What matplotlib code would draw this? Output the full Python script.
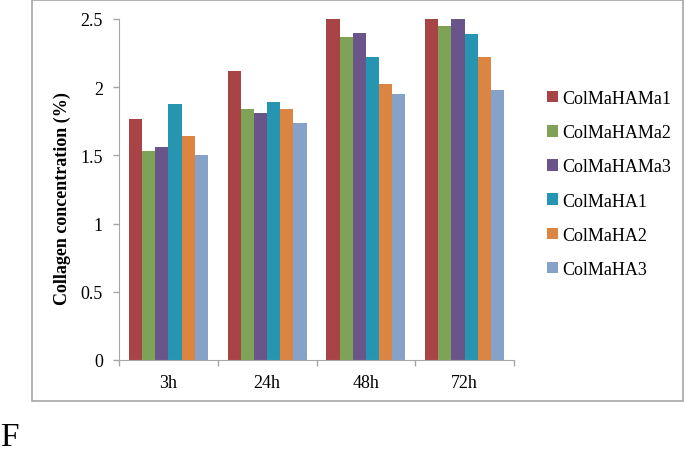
import numpy as np
import matplotlib
matplotlib.use("Agg")
import matplotlib.pyplot as plt
from matplotlib.patches import Rectangle

# data
times = ["3h", "24h", "48h", "72h"]
groups = ["ColMaHAMa1", "ColMaHAMa2", "ColMaHAMa3", "ColMaHA1", "ColMaHA2", "ColMaHA3"]
colmahama1 = [1.77, 2.12, 2.50, 2.50]
colmahama2 = [1.53, 1.84, 2.37, 2.45]
colmahama3 = [1.56, 1.81, 2.40, 2.50]
colmaha1 = [1.88, 1.89, 2.22, 2.39]
colmaha2 = [1.64, 1.84, 2.02, 2.22]
colmaha3 = [1.50, 1.74, 1.95, 1.98]
series = [colmahama1, colmahama2, colmahama3, colmaha1, colmaha2, colmaha3]
colors = ["#A84446", "#7EA356", "#6A558B", "#2595B1", "#DC8441", "#87A2C8"]

plt.rcParams['font.family'] = ['Liberation Serif', 'DejaVu Serif']

fig = plt.figure(figsize=(6.85, 4.56), dpi=100)

# outer frame around the chart
fig.patches.append(Rectangle((32/685, 54/456), 651/685, 401/456, transform=fig.transFigure,
                             fill=False, edgecolor="#A6A6A6", linewidth=1.2))

ax = fig.add_axes([119/685, 95/456, 395/685, 341/456])
x = np.arange(len(times))
w = 0.8 / len(groups)
for i, (vals, c, name) in enumerate(zip(series, colors, groups)):
    ax.bar(x + (i - 2.5) * w, vals, width=w, color=c, label=name, linewidth=0)

ax.set_xlim(-0.5, 3.5)
ax.set_ylim(0, 2.5)
ax.set_yticks([0, 0.5, 1, 1.5, 2, 2.5], labels=["0", "0.5", "1", "1.5", "2", "2.5"])
ax.set_xticks(x, labels=times)
ax.set_xticks(np.arange(-0.5, 4, 1), minor=True)
ax.tick_params(axis="x", which="major", length=0, pad=10, labelsize=13)
ax.tick_params(axis="x", which="minor", length=4.5, color="#A6A6A6", width=1)
ax.tick_params(axis="y", length=4.5, color="#A6A6A6", width=1, pad=7, labelsize=13)
for s in ["top", "right"]:
    ax.spines[s].set_visible(False)
for s in ["left", "bottom"]:
    ax.spines[s].set_color("#A6A6A6")

# y axis title placed by hand (sits a bit below the axes centre in the original)
fig.text(62/685, 1 - 199/456, "Collagen concentration (%)", fontsize=13, fontweight="bold",
         rotation=90, ha="center", va="center")

fig.legend(loc="center left", bbox_to_anchor=(531/685, 1 - 185/456), frameon=False,
           fontsize=13, handlelength=0.6, handleheight=0.6, handletextpad=0.25,
           labelspacing=0.95)

fig.text(0/685, 1 - 438/456, "F", fontsize=24, va="center", ha="left")

fig.savefig("out.png", dpi=100)
